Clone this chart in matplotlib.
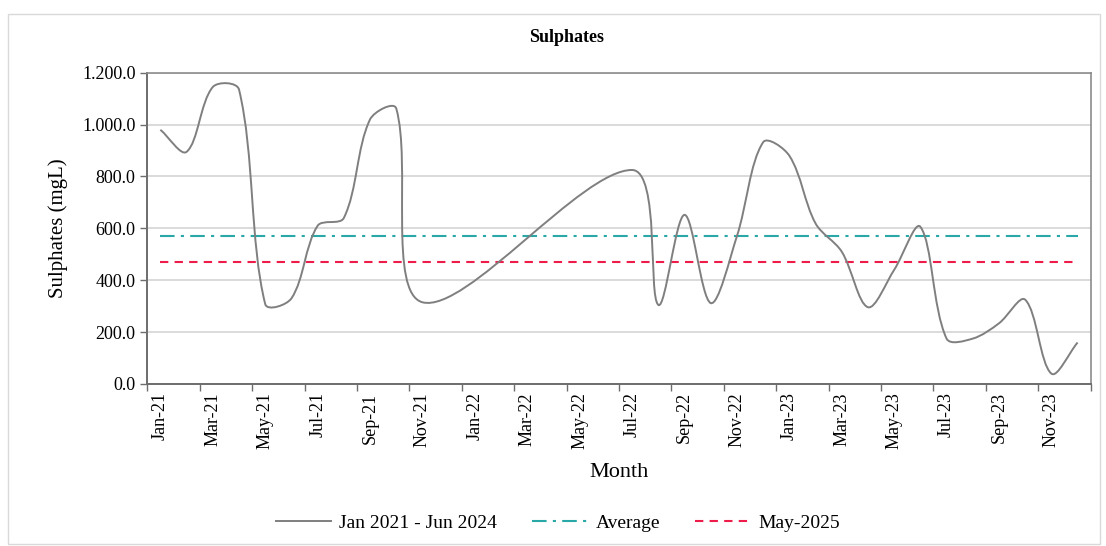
import numpy as np
import matplotlib.pyplot as plt
from matplotlib.path import Path
from matplotlib.patches import PathPatch, Rectangle
from matplotlib.lines import Line2D

plt.rcParams['font.family'] = ['Liberation Serif', 'DejaVu Serif']

# monthly categories Jan-21 .. Dec-23
months = ['Jan-21', 'Feb-21', 'Mar-21', 'Apr-21', 'May-21', 'Jun-21', 'Jul-21', 'Aug-21',
          'Sep-21', 'Oct-21', 'Nov-21', 'Dec-21', 'Jan-22', 'Feb-22', 'Mar-22', 'Apr-22',
          'May-22', 'Jun-22', 'Jul-22', 'Aug-22', 'Sep-22', 'Oct-22', 'Nov-22', 'Dec-22',
          'Jan-23', 'Feb-23', 'Mar-23', 'Apr-23', 'May-23', 'Jun-23', 'Jul-23', 'Aug-23',
          'Sep-23', 'Oct-23', 'Nov-23', 'Dec-23']
sulphates = [980, 895, 1145, 1135, 308, 330, 610, 640,
             1020, 1062, 315, np.nan, np.nan, np.nan, np.nan, np.nan,
             np.nan, np.nan, 825, 305, 652, 312, 570, 932,
             880, 619, 510, 296, 440, 606, 175, 175,
             234, 325, 40, 160]
average = 570.0
may_2025 = 470.0


def smooth_path(xs, ys, sx, sy, t=1.0 / 3):
    # excel-like smoothed line: bezier through points, tangents weighted by segment length
    pts = np.column_stack([xs, ys])
    n = len(pts)
    disp = pts * [sx, sy]
    verts = [tuple(pts[0])]
    codes = [Path.MOVETO]
    for i in range(n - 1):
        p0, p1 = pts[i], pts[i + 1]
        d_seg = np.hypot(*(disp[i + 1] - disp[i]))
        if i > 0:
            d_prev = np.hypot(*(disp[i] - disp[i - 1]))
            tan = pts[i + 1] - pts[i - 1]
            c1 = p0 + tan * t * d_seg / (d_prev + d_seg)
        else:
            c1 = p0 + (p1 - p0) * t
        if i + 2 < n:
            d_next = np.hypot(*(disp[i + 2] - disp[i + 1]))
            tan = pts[i + 2] - pts[i]
            c2 = p1 - tan * t * d_seg / (d_seg + d_next)
        else:
            c2 = p1 - (p1 - p0) * t
        verts += [tuple(c1), tuple(c2), tuple(p1)]
        codes += [Path.CURVE4] * 3
    return Path(verts, codes)


W, H = 1106, 546
fig = plt.figure(figsize=(W / 100, H / 100), dpi=100)
ax = fig.add_axes([147.3 / W, 1 - 384 / H, (1090.7 - 147.3) / W, (384 - 72.7) / H])

n = len(months)
x = np.arange(n)
ax.set_xlim(-0.5, n - 0.5)
ax.set_ylim(0, 1200)

# pixel scale used for the smoothing weights
bbox = ax.get_position()
sx = bbox.width * W / n
sy = bbox.height * H / 1200

y = np.array(sulphates, dtype=float)
ok = ~np.isnan(y)
path = smooth_path(x[ok].astype(float), y[ok], sx, sy)
ax.add_patch(PathPatch(path, facecolor='none', edgecolor='#7f7f7f', lw=1.4, zorder=4))

ax.plot(x, [average] * n, color='#2aa7a7', lw=1.5, dashes=(7, 3, 1.5, 3), zorder=3)
ax.plot(x, [may_2025] * n, color='#ee1c4a', lw=1.5, dashes=(4, 3), zorder=3)

# axes styling
ax.set_yticks(np.arange(0, 1201, 200))
ax.set_yticklabels([f'{v:,.1f}'.replace(',', '.') for v in np.arange(0, 1201, 200)], fontsize=13)
ax.yaxis.grid(True, color='#d4d4d4', lw=1.2)
ax.set_axisbelow(True)
ax.set_xticks(np.arange(-0.5, n, 2))
ax.set_xticklabels([])
ax.set_xticks(np.arange(0, n, 2), minor=True)
ax.set_xticklabels(months[::2], minor=True, rotation=90, fontsize=13)
ax.tick_params(axis='x', which='minor', length=0, pad=6)
ax.tick_params(axis='both', which='major', length=5, width=1, color='#6d6d6d', direction='out')
for side in ['left', 'bottom']:
    ax.spines[side].set_color('#6d6d6d')
    ax.spines[side].set_linewidth(1.4)
for side in ['top', 'right']:
    ax.spines[side].set_color('#8c8c8c')
    ax.spines[side].set_linewidth(1.2)

ax.set_xlabel('Month', fontsize=16, labelpad=10)
ax.set_ylabel('Sulphates (mgL)', fontsize=15, labelpad=10)
fig.text(0.512, 1 - 38 / H, 'Sulphates', ha='center', va='center', fontsize=13, fontweight='bold')

handles = [Line2D([], [], color='#7f7f7f', lw=1.4),
           Line2D([], [], color='#2aa7a7', lw=1.5, dashes=(7, 3, 1.5, 3)),
           Line2D([], [], color='#ee1c4a', lw=1.5, dashes=(4, 3)),
           ]
fig.legend(handles, ['Jan 2021 - Jun 2024', 'Average', 'May-2025'], loc='center',
           bbox_to_anchor=(0.5045, 1 - 523 / H), ncol=3, frameon=False, fontsize=14,
           handlelength=2.8, handletextpad=0.45, columnspacing=1.8)

fig.add_artist(Rectangle((8 / W, 2 / H), (1100 - 8) / W, (544 - 14) / H, transform=fig.transFigure,
                         fill=False, edgecolor='#d9d9d9', lw=1))

fig.savefig('out.png', dpi=100)
